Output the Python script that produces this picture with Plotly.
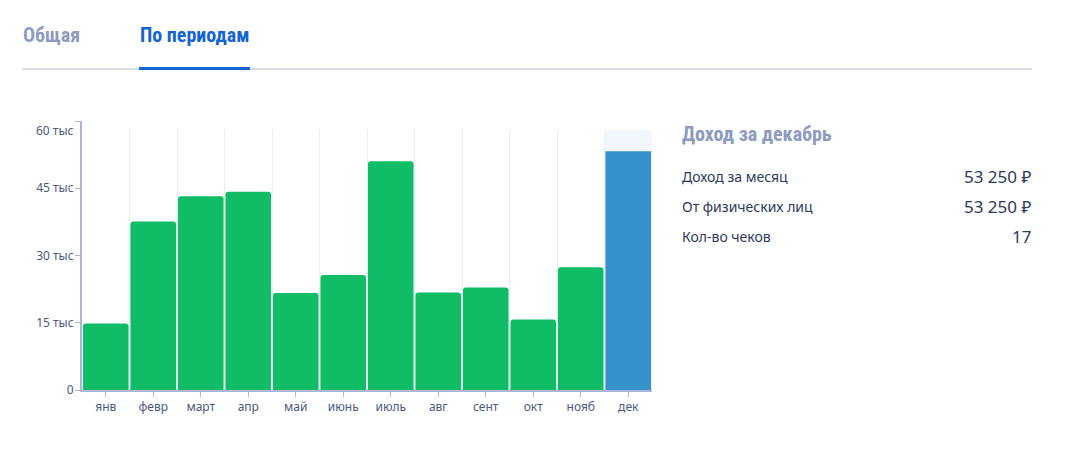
import plotly.graph_objects as go

# ---- data ----
months = ["янв", "февр", "март", "апр", "май", "июнь", "июль", "авг", "сент", "окт", "нояб", "дек"]
income = [14850, 37600, 43200, 44200, 21650, 25650, 51000, 21750, 22850, 15700, 27400, 53250]
selected_month = "дек"
ytick_vals = [0, 15000, 30000, 45000, 60000]
ytick_text = ["0", "15 тыс", "30 тыс", "45 тыс", "60 тыс"]
tabs = ["Общая", "По периодам"]
panel_title = "Доход за декабрь"
panel_labels = ["Доход за месяц", "От физических лиц", "Кол-во чеков"]
panel_values = ["53 250 ₽", "53 250 ₽", "17"]

# ---- layout geometry (page pixels; the figure div sits at an 8px body margin) ----
OFF = 8
W, H = 1069 - 2 * OFF, 456 - 2 * OFF
L, R, T, B = 82, 652, 121, 390


def px(x):
    return (x - L) / (R - L)


def py(y):
    return (B - y) / (B - T)


Y_MAX = ytick_vals[-1]
GREEN = "#10bc66"
BLUE = "#3792cc"
AXIS = "#a9b6d8"
TICKFONT = "#4b5a80"
GRID = "#e6edf9"
TEXT = "#2c3a5c"
BODY = "Noto Sans, Open Sans, sans-serif"
COND = "Roboto Condensed, sans-serif"

sel = months.index(selected_month)
xs = list(range(len(months)))
colors = [BLUE if i == sel else GREEN for i in xs]
highlight_top = Y_MAX * (B - 130) / (B - T)

fig = go.Figure()
fig.add_trace(go.Bar(x=[xs[sel]], y=[highlight_top], width=1, marker=dict(color="#f2f6fd", line=dict(width=0)),
                     hoverinfo="skip", showlegend=False))
fig.add_trace(go.Bar(x=xs, y=income, marker=dict(color=colors, cornerradius=3, line=dict(width=0)),
                     showlegend=False))

fig.update_layout(
    width=W, height=H, autosize=False,
    margin=dict(l=L - OFF, r=W - (R - OFF), t=T - OFF, b=H - (B - OFF), pad=0),
    paper_bgcolor="white", plot_bgcolor="white",
    barmode="overlay", bargap=0.04,
    font=dict(family=BODY, color=TICKFONT, size=12),
    xaxis=dict(
        range=[-0.5, len(months) - 0.5], tickmode="array", tickvals=xs, ticktext=months,
        ticks="outside", ticklen=5, tickcolor=AXIS, tickwidth=1,
        showline=True, linecolor=AXIS, linewidth=2, showgrid=False, zeroline=False,
        tickfont=dict(size=12, color=TICKFONT),
        minor=dict(tick0=0.5, dtick=1, showgrid=True, gridcolor=GRID, gridwidth=1, ticks=""),
        fixedrange=True,
    ),
    yaxis=dict(
        range=[0, Y_MAX], tickmode="array", tickvals=ytick_vals,
        ticktext=ytick_text[:-1] + [""],
        ticks="outside", ticklen=5, tickcolor=AXIS, tickwidth=1, ticklabelstandoff=-1,
        showline=True, linecolor=AXIS, linewidth=2, showgrid=False, zeroline=False,
        tickfont=dict(size=12, color=TICKFONT), fixedrange=True,
    ),
)

shapes = [
    # white cover hiding gridlines above the drawing area
    dict(type="rect", xref="paper", yref="y", x0=px(L + 1.5), x1=1.01, y0=highlight_top, y1=Y_MAX * 1.01,
         fillcolor="white", line=dict(width=0), layer="above"),
    # tabs baseline
    dict(type="line", xref="paper", yref="paper", x0=px(22), x1=px(1032), y0=py(69), y1=py(69),
         line=dict(color="#b4bdd3", width=1)),
    # active tab underline
    dict(type="line", xref="paper", yref="paper", x0=px(139), x1=px(250), y0=py(68.5), y1=py(68.5),
         line=dict(color="#1464d6", width=3)),
]
fig.update_layout(shapes=shapes)

ann = []
# top tick label shifted down
ann.append(dict(xref="paper", yref="paper", x=px(76), y=py(130), text=ytick_text[-1], showarrow=False,
                xanchor="right", yanchor="middle", font=dict(size=12, color=TICKFONT)))
# tabs
ann.append(dict(xref="paper", yref="paper", x=px(21), y=py(35), text="<b>%s</b>" % tabs[0], showarrow=False,
                xanchor="left", yanchor="middle", font=dict(family=COND, size=20, color="#8d9bc0")))
ann.append(dict(xref="paper", yref="paper", x=px(138), y=py(35), text="<b>%s</b>" % tabs[1], showarrow=False,
                xanchor="left", yanchor="middle", font=dict(family=COND, size=20, color="#1464d6")))
# side panel
ann.append(dict(xref="paper", yref="paper", x=px(680), y=py(134), text="<b>%s</b>" % panel_title, showarrow=False,
                xanchor="left", yanchor="middle", font=dict(family=COND, size=20, color="#8d9bc0")))
for i, (lab, val) in enumerate(zip(panel_labels, panel_values)):
    yy = py(176 + 30 * i)
    ann.append(dict(xref="paper", yref="paper", x=px(680), y=yy, text=lab, showarrow=False,
                    xanchor="left", yanchor="middle", font=dict(family=BODY, size=14, color=TEXT)))
    ann.append(dict(xref="paper", yref="paper", x=px(1033), y=yy, text=val, showarrow=False,
                    xanchor="right", yanchor="middle", font=dict(family=BODY, size=17, color=TEXT)))
fig.update_layout(annotations=ann)

fig.write_html("out.html", config={"displayModeBar": False})
